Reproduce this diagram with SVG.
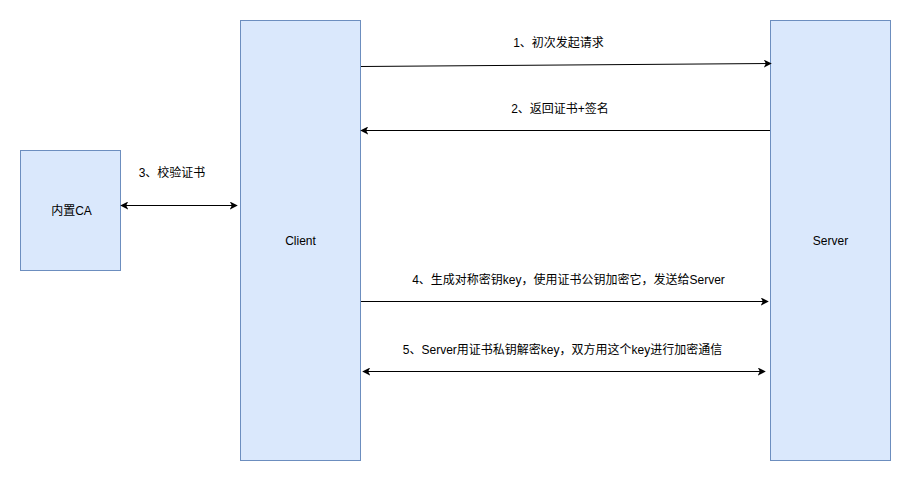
<svg xmlns="http://www.w3.org/2000/svg" width="911" height="481" viewBox="0 0 911 481">
<style>
.box{fill:#dae8fc;stroke:#6c8ebf;stroke-width:1}
.t{font-family:Helvetica,"Liberation Sans","Noto Sans CJK SC",sans-serif;font-size:12px;fill:#000;text-anchor:middle;dominant-baseline:central}
.c{stroke:#000;stroke-width:1;fill:none}
</style>
<defs>
<marker id="ah" viewBox="0 0 10 10" refX="9" refY="5" markerWidth="8" markerHeight="8" markerUnits="userSpaceOnUse" orient="auto-start-reverse">
<path d="M0,0 L10,5 L0,10 L2.5,5 Z" fill="#000"/>
</marker>
</defs>
<rect width="911" height="481" fill="#fff"/>
<g id="client"><rect class="box" x="240.5" y="20.5" width="120" height="440"/><text class="t" x="300.5" y="241">Client</text></g>
<g id="server"><rect class="box" x="770.5" y="20.5" width="120" height="440"/><text class="t" x="830.5" y="241">Server</text></g>
<g id="ca"><rect class="box" x="20.5" y="150.5" width="100" height="120"/><text class="t" x="71.5" y="211">内置CA</text></g>
<g id="connectors">
<line class="c" x1="361" y1="66.5" x2="771" y2="63.5" marker-end="url(#ah)"/>
<line class="c" x1="770" y1="130.5" x2="361" y2="130.5" marker-end="url(#ah)"/>
<line class="c" x1="121" y1="205.5" x2="237" y2="205.5" marker-start="url(#ah)" marker-end="url(#ah)"/>
<line class="c" x1="361" y1="301.5" x2="768" y2="301.5" marker-end="url(#ah)"/>
<line class="c" x1="363" y1="371.5" x2="765" y2="371.5" marker-start="url(#ah)" marker-end="url(#ah)"/>
<text class="t" x="558.5" y="43">1、初次发起请求</text>
<text class="t" x="560" y="109">2、返回证书+签名</text>
<text class="t" x="172" y="173">3、校验证书</text>
<text class="t" x="568.5" y="280">4、生成对称密钥key，使用证书公钥加密它，发送给Server</text>
<text class="t" x="562.5" y="350">5、Server用证书私钥解密key，双方用这个key进行加密通信</text>
</g>
</svg>
